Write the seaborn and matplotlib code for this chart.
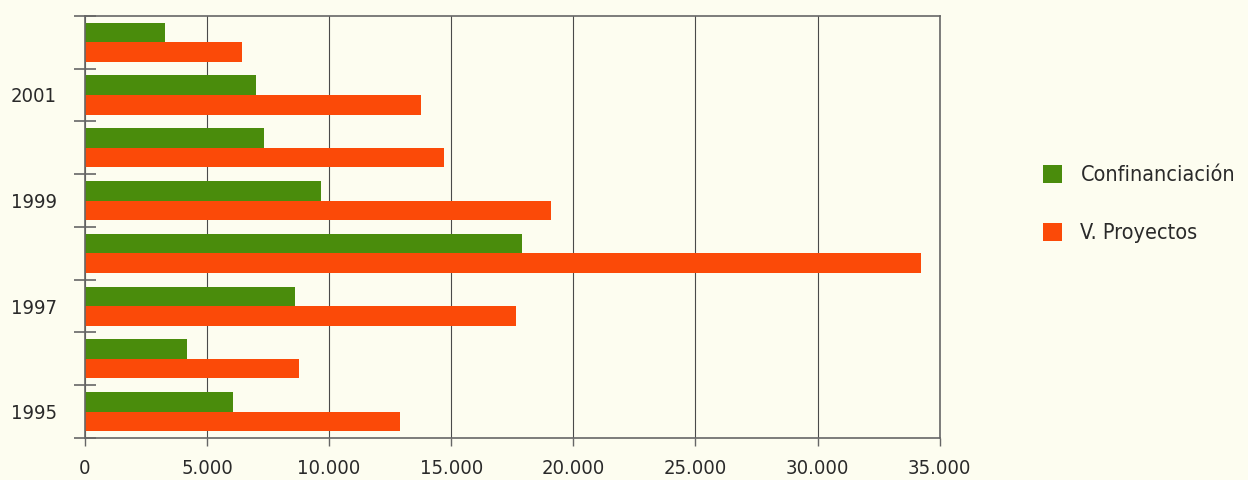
import matplotlib
matplotlib.use("Agg")
import matplotlib.pyplot as plt
import matplotlib.ticker as mticker
from matplotlib.patches import Patch
import seaborn as sns
import pandas as pd

years = ["2002", "2001", "2000", "1999", "1998", "1997", "1996", "1995"]
confinanciacion = [3300, 7000, 7350, 9650, 17900, 8600, 4200, 6050]
v_proyectos = [6450, 13750, 14700, 19100, 34250, 17650, 8750, 12900]
series_names = ["Confinanciación", "V. Proyectos"]
labeled_years = ["2001", "1999", "1997", "1995"]
xticks = [0, 5000, 10000, 15000, 20000, 25000, 30000, 35000]

colors = ["#4a8c0c", "#fb4a08"]
bg = "#fdfdf0"
txt = "#2a2a2a"

df = pd.DataFrame({
    "year": years * 2,
    "value": confinanciacion + v_proyectos,
    "serie": [series_names[0]] * len(years) + [series_names[1]] * len(years),
})

sns.set_style("white")
plt.rcParams["font.family"] = ["DejaVu Sans"]
plt.rcParams["font.stretch"] = "condensed"

fig = plt.figure(figsize=(12.48, 4.8), dpi=100, facecolor=bg)
ax = fig.add_axes([0.068, 0.0875, 0.685, 0.8795], facecolor=bg)

sns.barplot(data=df, y="year", x="value", hue="serie", order=years,
            hue_order=series_names, palette=colors, orient="h",
            width=0.74, saturation=1, ax=ax, legend=False, linewidth=0)

ax.set_xlim(0, 35000)
ax.set_ylim(len(years) - 0.5, -0.5)
ax.set_xticks(xticks)
ax.xaxis.set_major_formatter(mticker.FuncFormatter(
    lambda v, p: f"{int(v):,}".replace(",", ".")))
ax.grid(axis="x", color="#4a4a4a", linewidth=0.8)
ax.set_axisbelow(True)

ax.set_yticks([i - 0.5 for i in range(len(years) + 1)])
ax.set_yticklabels([])
centers = [years.index(y) for y in labeled_years]
ax.set_yticks(centers, minor=True)
ax.set_yticklabels(labeled_years, minor=True)
ax.tick_params(axis="y", which="major", direction="inout", length=16,
               width=1.2, color="#666666", left=True)
ax.tick_params(axis="y", which="minor", length=0, pad=20, labelsize=14.5,
               labelcolor=txt)
ax.tick_params(axis="x", which="major", direction="out", length=6,
               width=1, color="#666666", bottom=True, labelsize=14.5,
               labelcolor=txt, pad=9)
ax.set_xlabel("")
ax.set_ylabel("")
for s in ax.spines.values():
    s.set_visible(True)
    s.set_color("#666666")
    s.set_linewidth(1.2)

handles = [Patch(facecolor=c, edgecolor="none") for c in colors]
leg = fig.legend(handles, series_names, loc="center left",
                 bbox_to_anchor=(0.82, 0.575), frameon=False,
                 handlelength=0.9, handleheight=0.9, labelspacing=1.75,
                 handletextpad=0.85, fontsize=15.5)
for t in leg.get_texts():
    t.set_color(txt)

fig.savefig("out.png", dpi=100, facecolor=bg)
